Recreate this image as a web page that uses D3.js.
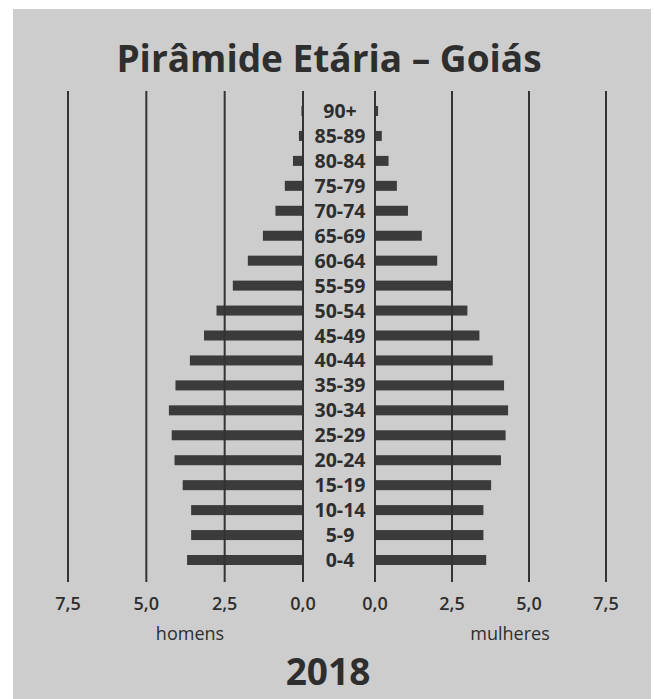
<!DOCTYPE html>
<html>
<head>
<meta charset="utf-8">
<script src="https://cdn.jsdelivr.net/npm/d3@7"></script>
<style>
  body { margin: 0; background: #fff; }
  text { font-family: "Open Sans", sans-serif; fill: #2e2e2e; }
</style>
</head>
<body>
<div id="chart"></div>
<script>
// Age groups, bottom to top
var ages = ["0-4", "5-9", "10-14", "15-19", "20-24", "25-29", "30-34", "35-39", "40-44",
  "45-49", "50-54", "55-59", "60-64", "65-69", "70-74", "75-79", "80-84", "85-89", "90+"];

// Share of population (%) by sex
var men = [3.70, 3.57, 3.57, 3.84, 4.10, 4.19, 4.28, 4.07, 3.61, 3.16,
  2.76, 2.24, 1.76, 1.28, 0.88, 0.58, 0.32, 0.13, 0.05];
var women = [3.61, 3.52, 3.52, 3.77, 4.09, 4.24, 4.32, 4.19, 3.82, 3.39,
  3.00, 2.47, 2.02, 1.52, 1.07, 0.71, 0.44, 0.22, 0.10];

var tickValues = [0, 2.5, 5, 7.5];

var svgWidth = 655;
var svgHeight = 699;

var gridTop = 91;
var gridBottom = 582;
var barHeight = 10;

var svg = d3.select("#chart")
  .append("svg")
  .attr("width", svgWidth)
  .attr("height", svgHeight);

// grey panel
svg.append("rect")
  .attr("x", 13)
  .attr("y", 9)
  .attr("width", 638)
  .attr("height", 690)
  .attr("fill", "#cdcdcd");

var xLeft = d3.scaleLinear().domain([0, 7.5]).range([303, 68]);
var xRight = d3.scaleLinear().domain([0, 7.5]).range([375, 606]);

var y = d3.scalePoint()
  .domain(ages.slice().reverse())
  .range([111, 560]);

var fmt = d3.formatLocale({ decimal: ",", thousands: ".", grouping: [3], currency: ["R$", ""] }).format(".1f");

// bars - men (left)
svg.append("g")
  .selectAll("rect")
  .data(ages)
  .enter()
  .append("rect")
  .attr("x", function(d, i) { return xLeft(men[i]); })
  .attr("y", function(d) { return y(d) - barHeight / 2; })
  .attr("width", function(d, i) { return xLeft(0) - xLeft(men[i]); })
  .attr("height", barHeight)
  .attr("fill", "#3b3b3b");

// bars - women (right)
svg.append("g")
  .selectAll("rect")
  .data(ages)
  .enter()
  .append("rect")
  .attr("x", xRight(0))
  .attr("y", function(d) { return y(d) - barHeight / 2; })
  .attr("width", function(d, i) { return xRight(women[i]) - xRight(0); })
  .attr("height", barHeight)
  .attr("fill", "#3b3b3b");

// vertical grid lines + tick labels for both sides
[xLeft, xRight].forEach(function(scale) {
  var g = svg.append("g");
  g.selectAll("line")
    .data(tickValues)
    .enter()
    .append("line")
    .attr("x1", function(d) { return scale(d); })
    .attr("x2", function(d) { return scale(d); })
    .attr("y1", gridTop)
    .attr("y2", gridBottom)
    .attr("stroke", "#333")
    .attr("stroke-width", 2);
  g.selectAll("text")
    .data(tickValues)
    .enter()
    .append("text")
    .attr("x", function(d) { return scale(d); })
    .attr("y", 610)
    .attr("text-anchor", "middle")
    .attr("font-size", 18)
    .attr("font-weight", 600)
    .text(function(d) { return fmt(d); });
});

// age labels in the middle
svg.append("g")
  .selectAll("text")
  .data(ages)
  .enter()
  .append("text")
  .attr("x", 340)
  .attr("y", function(d) { return y(d) + 7; })
  .attr("text-anchor", "middle")
  .attr("font-size", 19.5)
  .attr("font-weight", 700)
  .text(function(d) { return d; });

// title and captions
svg.append("text")
  .attr("x", 329)
  .attr("y", 72)
  .attr("text-anchor", "middle")
  .attr("font-size", 37)
  .attr("font-weight", 700)
  .text("Pirâmide Etária – Goiás");

svg.append("text")
  .attr("x", 190)
  .attr("y", 640)
  .attr("text-anchor", "middle")
  .attr("font-size", 18)
  .attr("font-weight", 500)
  .text("homens");

svg.append("text")
  .attr("x", 510)
  .attr("y", 640)
  .attr("text-anchor", "middle")
  .attr("font-size", 18)
  .attr("font-weight", 500)
  .text("mulheres");

svg.append("text")
  .attr("x", 328)
  .attr("y", 685)
  .attr("text-anchor", "middle")
  .attr("font-size", 37)
  .attr("font-weight", 700)
  .text("2018");
</script>
</body>
</html>
